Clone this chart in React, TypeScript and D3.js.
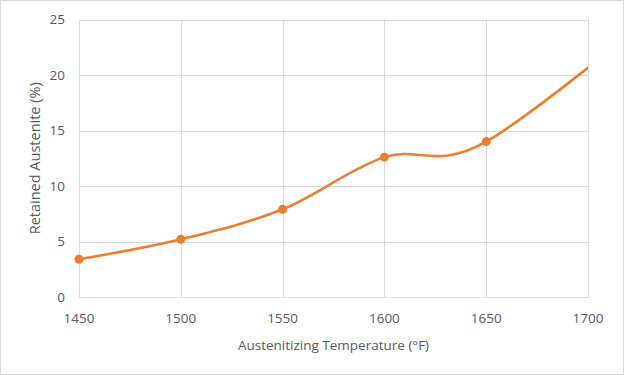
import React, { useEffect, useRef } from 'react';
import * as d3 from 'd3';

// the series runs on past the 1700 axis limit; the line is clipped at the plot edge
const temps = [1450, 1500, 1550, 1600, 1650, 1750];
const retained = [3.4, 5.2, 7.9, 12.6, 14.0, 28.1];
const xTicks = [1450, 1500, 1550, 1600, 1650, 1700];
const yTicks = [0, 5, 10, 15, 20, 25];

const App = () => {
    const ref = useRef<SVGSVGElement>(null);

    useEffect(() => {
        const svg = d3.select(ref.current);
        svg.selectAll('*').remove();

        const width = 624;
        const height = 375;
        const m = { left: 79, right: 36, top: 19.5, bottom: 78 };
        const font = '"Open Sans", sans-serif';

        svg.attr('width', width).attr('height', height);

        svg.append('rect')
           .attr('x', 0.5).attr('y', 0.5)
           .attr('width', width - 1).attr('height', height - 1)
           .attr('fill', '#fff').attr('stroke', '#d9d9d9');

        const x = d3.scaleLinear().domain([1450, 1700]).range([m.left, width - m.right]);
        const y = d3.scaleLinear().domain([0, 25]).range([height - m.bottom, m.top]);

        svg.append('clipPath').attr('id', 'plot')
           .append('rect')
           .attr('x', m.left - 6).attr('y', m.top)
           .attr('width', width - m.right - m.left + 6)
           .attr('height', height - m.bottom - m.top + 6);

        const grid = svg.append('g').attr('stroke', '#d9d9d9').attr('stroke-width', 1);
        grid.selectAll('.h').data(yTicks).enter().append('line')
            .attr('x1', m.left).attr('x2', width - m.right)
            .attr('y1', d => Math.round(y(d)) + 0.5).attr('y2', d => Math.round(y(d)) + 0.5);
        grid.selectAll('.v').data(xTicks).enter().append('line')
            .attr('y1', m.top).attr('y2', height - m.bottom)
            .attr('x1', d => Math.round(x(d)) + 0.5).attr('x2', d => Math.round(x(d)) + 0.5);

        svg.append('g').selectAll('text').data(yTicks).enter().append('text')
           .attr('x', 65).attr('y', d => y(d))
           .attr('dy', '0.35em')
           .attr('text-anchor', 'end')
           .attr('font-family', font).attr('font-size', 13.5)
           .attr('fill', '#595959')
           .text(d => d);

        svg.append('g').selectAll('text').data(xTicks).enter().append('text')
           .attr('x', d => x(d)).attr('y', 323)
           .attr('text-anchor', 'middle')
           .attr('font-family', font).attr('font-size', 13.5)
           .attr('fill', '#595959')
           .text(d => d);

        svg.append('text')
           .attr('x', (m.left + width - m.right) / 2).attr('y', 350)
           .attr('text-anchor', 'middle')
           .attr('font-family', font).attr('font-size', 13.5)
           .attr('fill', '#595959')
           .text('Austenitizing Temperature (°F)');

        svg.append('text')
           .attr('transform', `translate(40, ${(m.top + height - m.bottom) / 2}) rotate(-90)`)
           .attr('text-anchor', 'middle')
           .attr('font-family', font).attr('font-size', 14.5)
           .attr('fill', '#595959')
           .text('Retained Austenite (%)');

        const pts = temps.map((t, i) => [t, retained[i]] as [number, number]);
        const shown = pts.filter(d => d[0] <= 1700);

        const line = d3.line<[number, number]>()
                       .x(d => x(d[0]))
                       .y(d => y(d[1]))
                       .curve(d3.curveCardinal.tension(0));

        const plot = svg.append('g').attr('clip-path', 'url(#plot)');

        plot.append('path')
            .attr('d', line(pts))
            .attr('fill', 'none')
            .attr('stroke', '#ed7d31')
            .attr('stroke-width', 2.6)
            .attr('stroke-linecap', 'round');

        plot.selectAll('circle').data(shown).enter().append('circle')
            .attr('cx', d => x(d[0])).attr('cy', d => y(d[1]))
            .attr('r', 4.5)
            .attr('fill', '#ed7d31');
    }, []);

    return <svg ref={ref} style={{ position: 'fixed', left: 0, top: 0 }}></svg>;
};

export default App;
